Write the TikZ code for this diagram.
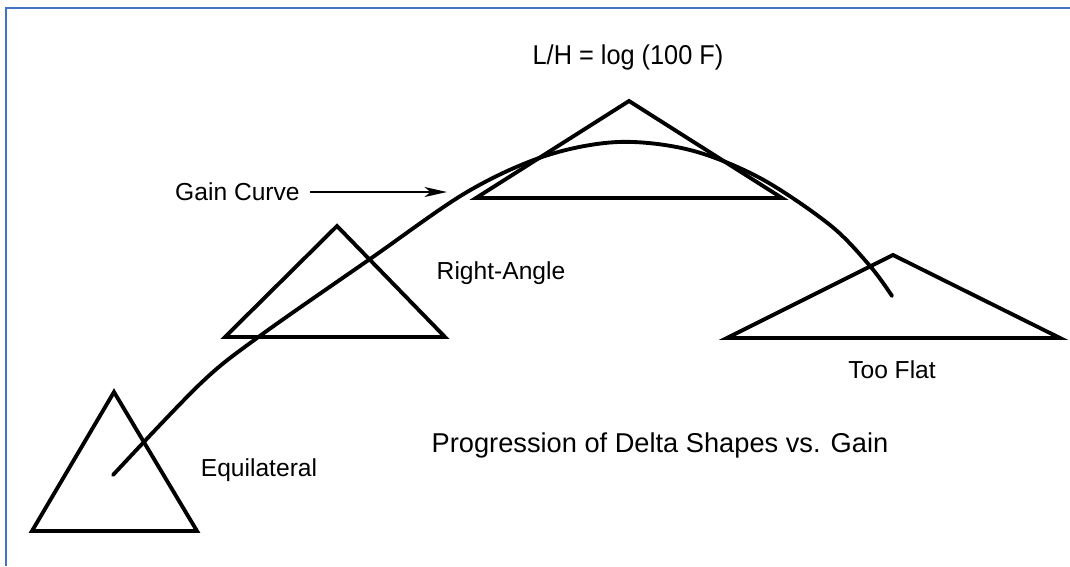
\documentclass[tikz,border=0pt]{standalone}
\usepackage{fontspec}
\setmainfont{Liberation Sans}
\usepackage{tikz}
\usetikzlibrary{arrows.meta}
\definecolor{frameblue}{RGB}{68,114,196}

\begin{document}
\begin{tikzpicture}[x=0.02cm,y=-0.02cm,
  tri/.style={line width=2.2pt, line join=miter},
  lbl/.style={font=\fontsize{14}{16}\selectfont, inner sep=0pt},
  ttl/.style={font=\fontsize{15.5}{18}\selectfont, inner sep=0pt}]

\useasboundingbox (0,0) rectangle (1070,566);
\fill[white] (0,0) rectangle (1070,566);
\draw[frameblue, line width=1.5pt] (6,566) -- (6,8) -- (1070,8);

% the four deltas
\draw[tri] (114,392) -- (197,531) -- (32,531) -- cycle;
\draw[tri] (337,226) -- (445,337) -- (225,337) -- cycle;
\draw[tri] (629,101) -- (782,198) -- (476,198) -- cycle;
\draw[tri] (893,255) -- (1060,338) -- (727,338) -- cycle;

% gain curve
\draw[line width=2.2pt, line cap=round] plot[smooth, tension=0.55] coordinates
  {(113,475) (200,384) (257,338) (370,259) (467,192) (545,156) (618,142)
   (690,150) (760,178) (830,225) (870,266) (892,296)};

\node[lbl] (eq) at (259,470) {Equilateral};
\node[lbl] (ra) at (501,273) {Right-Angle};
\node[lbl] (tf) at (892,370) {Too Flat};
\node[ttl, xscale=0.93] (lh) at (628,57) {L/H = log (100 F)};
\node[ttl] (prog) at (660,445) {Progression of Delta Shapes vs. Gain};
\node[lbl, anchor=east] (gc) at (300,192) {Gain Curve};
\coordinate (gctip) at (447,192);
\draw[line width=0.9pt, -{Stealth[length=0.45cm, width=0.2cm, inset=0.12cm]}] ([xshift=0.2cm]gc.east) -- (gctip);
\end{tikzpicture}
\end{document}
